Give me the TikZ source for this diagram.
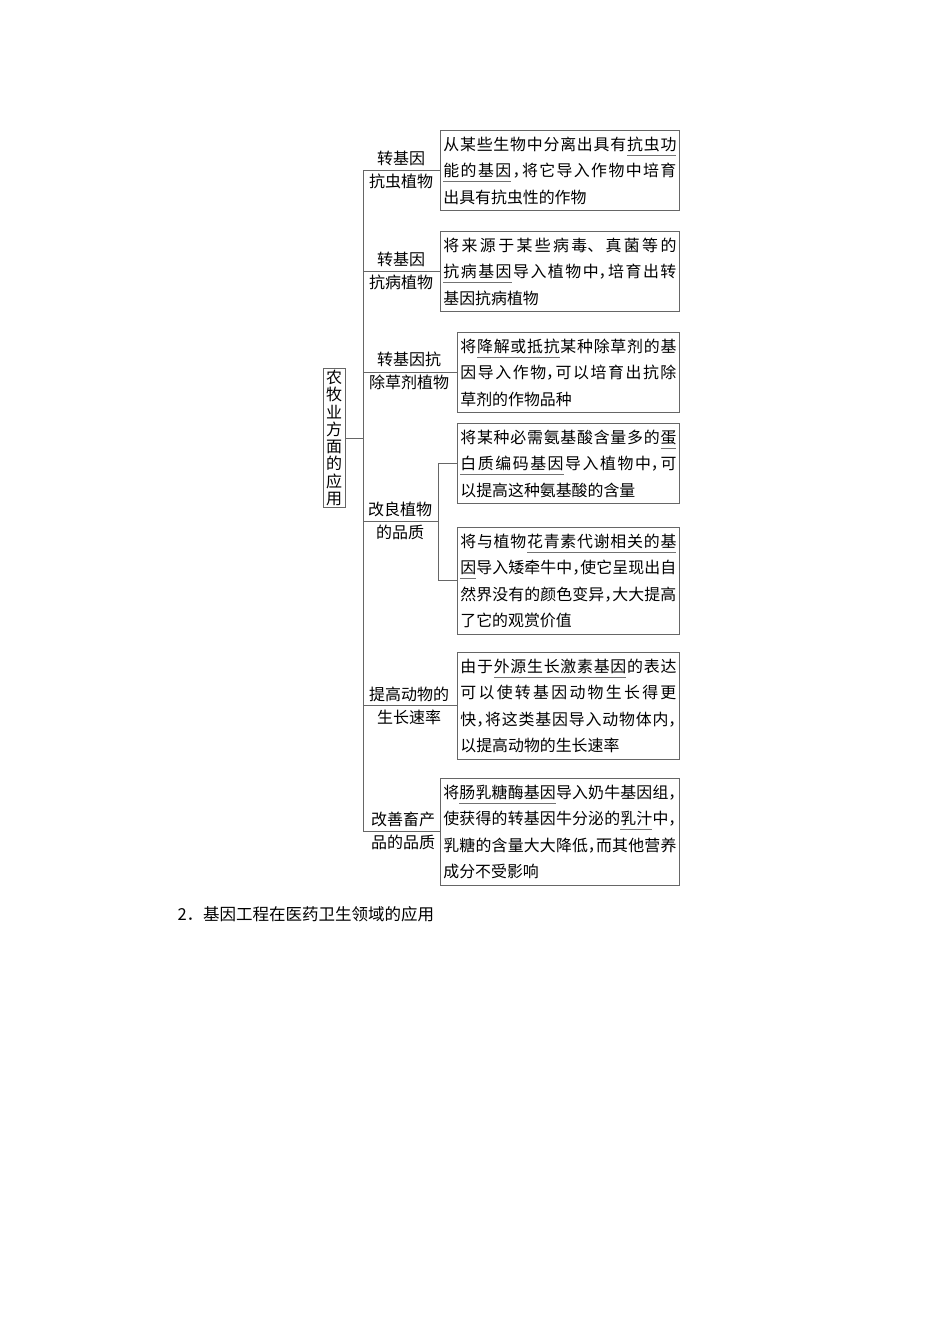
\documentclass[tikz,border=0pt]{standalone}
\usepackage{fontspec}
\setmainfont{Noto Sans CJK SC}
\XeTeXlinebreaklocale "zh"
\XeTeXlinebreakskip=0pt plus 5pt
\setlength\parindent{0pt}
\newcommand\halfcomma{\makebox[0.5em][l]{，}\hskip 0pt plus 5pt}
% underlined key phrases: one rule per character, stretchable rule between them
\newcommand\kwchar[1]{\setbox0\hbox{#1}\rlap{\color{black!55}\rule[-5.5pt]{\wd0}{1pt}}\box0}
\newcommand\kwgap{{\color{black!55}\leaders\hrule height -4.5pt depth 5.5pt\hskip 0pt plus 5pt}}
\ExplSyntaxOn
\NewDocumentCommand \keyword { m }
  {
    \hskip 0pt plus 5pt
    \bool_set_true:N \l_tmpa_bool
    \tl_map_inline:nn {#1}
      {
        \bool_if:NF \l_tmpa_bool { \kwgap }
        \bool_set_false:N \l_tmpa_bool
        \kwchar{##1}
      }
    \hskip 0pt plus 5pt
  }
\ExplSyntaxOff

\tikzset{
  leaf/.style={draw=black!60, line width=0.8pt, anchor=north west, inner xsep=3pt,
    inner ysep=6.2pt, align=justify, font=\fontsize{15.9}{26.5}\selectfont},
  wide/.style={leaf, text width=233pt},
  narrow/.style={leaf, text width=216pt},
  branch/.style={align=center, font=\fontsize{16}{22.5}\selectfont},
  link/.style={draw=black!60, line width=0.8pt}
}

\begin{document}
\begin{tikzpicture}[x=1pt, y=-1pt]
  \useasboundingbox (0,0) rectangle (950,1344);

  % root
  \node[draw=black!60, line width=0.8pt, text width=16pt, inner xsep=3pt, inner ysep=1.5pt,
    align=center, font=\fontsize{16}{17.25}\selectfont] (root) at (334,438)
    {农\\牧\\业\\方\\面\\的\\应\\用};
  \coordinate (spine) at (363,438);

  % leaves
  \node[wide] (b1) at (440,130) {从某些生物中分离出具有\keyword{抗虫功}\linebreak\keyword{能的基因}\halfcomma 将它导入作物中培育\linebreak 出具有抗虫性的作物};
  \node[wide] (b2) at (440,231) {将来源于某些病毒、真菌等的\linebreak\keyword{抗病基因}导入植物中\halfcomma 培育出转\linebreak 基因抗病植物};
  \node[narrow] (b3) at (457,332) {将\keyword{降解或抵抗}某种除草剂的基\linebreak 因导入作物\halfcomma 可以培育出抗除\linebreak 草剂的作物品种};
  \node[narrow] (b4a) at (457,423) {将某种必需氨基酸含量多的\keyword{蛋}\linebreak\keyword{白质编码基因}导入植物中\halfcomma 可\linebreak 以提高这种氨基酸的含量};
  \node[narrow] (b4b) at (457,527) {将与植物\keyword{花青素代谢相关的基}\linebreak\keyword{因}导入矮牵牛中\halfcomma 使它呈现出自\linebreak 然界没有的颜色变异\halfcomma 大大提高\linebreak 了它的观赏价值};
  \node[narrow] (b5) at (457,652) {由于\keyword{外源生长激素基因}的表达\linebreak 可以使转基因动物生长得更\linebreak 快\halfcomma 将这类基因导入动物体内\halfcomma\linebreak 以提高动物的生长速率};
  \node[wide] (b6) at (440,778) {将\keyword{肠乳糖酶基因}导入奶牛基因组\halfcomma\linebreak 使获得的转基因牛分泌的\keyword{乳汁}中\halfcomma\linebreak 乳糖的含量大大降低\halfcomma 而其他营养\linebreak 成分不受影响};

  % branch labels
  \node[branch] (l1) at (401,170) {转基因\\抗虫植物};
  \node[branch] (l2) at (401,271) {转基因\\抗病植物};
  \node[branch] (l3) at (409,371) {转基因抗\\除草剂植物};
  \node[branch] (l4) at (400,521) {改良植物\\的品质};
  \node[branch] (l5) at (409,706) {提高动物的\\生长速率};
  \node[branch] (l6) at (403,831) {改善畜产\\品的品质};
  \coordinate (fork) at (438,521);

  % connectors
  \draw[link] (root.east) -- (root.east -| spine);
  \draw[link] (spine |- b1.west) -- (spine |- b6.west);
  \draw[link] (spine |- b1.west) -- (b1.west);
  \draw[link] (spine |- b2.west) -- (b2.west);
  \draw[link] (spine |- b3.west) -- (b3.west);
  \draw[link] (spine |- fork) -- (fork);
  \draw[link] (spine |- b5.west) -- (b5.west);
  \draw[link] (spine |- b6.west) -- (b6.west);
  \draw[link] (fork |- b4a.west) -- (fork |- b4b.west);
  \draw[link] (fork |- b4a.west) -- (b4a.west);
  \draw[link] (fork |- b4b.west) -- (b4b.west);

  \node[anchor=west, font=\fontsize{16.5}{20}\selectfont] (next) at (174,914) {2．基因工程在医药卫生领域的应用};
\end{tikzpicture}
\end{document}
